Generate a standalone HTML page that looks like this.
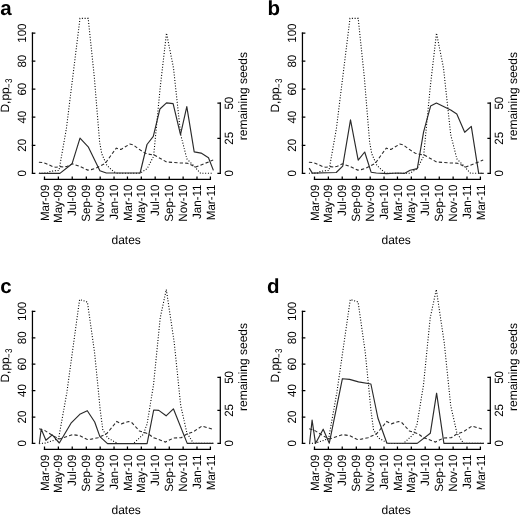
<!DOCTYPE html>
<html><head><meta charset="utf-8"><style>
html,body{margin:0;padding:0;background:#fff;width:520px;height:515px;overflow:hidden}
svg{display:block;filter:grayscale(1)}
text{font-family:"Liberation Sans", sans-serif;font-size:12px;fill:#000;text-rendering:geometricPrecision}
.tl{font-size:12px}
.ax{stroke:#000;stroke-width:1.25;fill:none;stroke-linecap:square}
.sol{stroke:#2a2a2a;stroke-width:1.15;fill:none;stroke-linejoin:round}
.dash{stroke:#2a2a2a;stroke-width:1.1;fill:none;stroke-dasharray:3.3 2.2}
.dot{stroke:#000;stroke-width:1.1;fill:none;stroke-dasharray:1 1.75}
</style></head><body>
<svg width="520" height="515" viewBox="0 0 520 515">
<g transform="translate(0,0)">
<text x="0.3" y="14.8" style="font-size:20.5px;font-weight:bold">a</text>
<path d="M32.45,33.1V173.3" class="ax"/>
<path d="M32.45,173.30h2.3M32.45,145.26h2.3M32.45,117.22h2.3M32.45,89.18h2.3M32.45,61.14h2.3M32.45,33.10h2.3" class="ax"/>
<text transform="translate(25.9,173.30) rotate(-90) scale(0.958,1)" text-anchor="middle" class="tl">0</text>
<text transform="translate(25.9,145.26) rotate(-90) scale(0.958,1)" text-anchor="middle" class="tl">20</text>
<text transform="translate(25.9,117.22) rotate(-90) scale(0.958,1)" text-anchor="middle" class="tl">40</text>
<text transform="translate(25.9,89.18) rotate(-90) scale(0.958,1)" text-anchor="middle" class="tl">60</text>
<text transform="translate(25.9,61.14) rotate(-90) scale(0.958,1)" text-anchor="middle" class="tl">80</text>
<text transform="translate(25.9,33.10) rotate(-90) scale(0.958,1)" text-anchor="middle" class="tl">100</text>
<text transform="translate(9.2,112.6) rotate(-90)">D,pp</text>
<path d="M8.9,87.60V83.90" style="stroke:#333;stroke-width:0.95;fill:none"/>
<text transform="translate(11.8,83.10) rotate(-90) scale(0.82,1)" style="font-size:9.7px">3</text>
<path d="M220.3,103.20V173.3" class="ax"/>
<path d="M220.3,173.30h-2.3M220.3,138.25h-2.3M220.3,103.20h-2.3" class="ax"/>
<text transform="translate(232.8,173.30) rotate(-90) scale(0.958,1)" text-anchor="middle" class="tl">0</text>
<text transform="translate(232.8,138.25) rotate(-90) scale(0.958,1)" text-anchor="middle" class="tl">25</text>
<text transform="translate(232.8,103.20) rotate(-90) scale(0.958,1)" text-anchor="middle" class="tl">50</text>
<text transform="translate(246.8,96.1) rotate(-90)" text-anchor="middle">remaining seeds</text>
<path d="M44.5,179.3H210.4" class="ax"/>
<path d="M44.50,179.3v-2.3M58.36,179.3v-2.3M72.23,179.3v-2.3M86.32,179.3v-2.3M100.18,179.3v-2.3M114.04,179.3v-2.3M127.45,179.3v-2.3M141.31,179.3v-2.3M155.18,179.3v-2.3M169.27,179.3v-2.3M183.13,179.3v-2.3M196.99,179.3v-2.3M210.40,179.3v-2.3" class="ax"/>
<text transform="translate(48.60,184.6) rotate(-90) scale(0.958,1)" text-anchor="end" class="tl">Mar-09</text>
<text transform="translate(62.46,184.6) rotate(-90) scale(0.958,1)" text-anchor="end" class="tl">May-09</text>
<text transform="translate(76.33,184.6) rotate(-90) scale(0.958,1)" text-anchor="end" class="tl">Jul-09</text>
<text transform="translate(90.42,184.6) rotate(-90) scale(0.958,1)" text-anchor="end" class="tl">Sep-09</text>
<text transform="translate(104.28,184.6) rotate(-90) scale(0.958,1)" text-anchor="end" class="tl">Nov-09</text>
<text transform="translate(118.14,184.6) rotate(-90) scale(0.958,1)" text-anchor="end" class="tl">Jan-10</text>
<text transform="translate(131.55,184.6) rotate(-90) scale(0.958,1)" text-anchor="end" class="tl">Mar-10</text>
<text transform="translate(145.41,184.6) rotate(-90) scale(0.958,1)" text-anchor="end" class="tl">May-10</text>
<text transform="translate(159.28,184.6) rotate(-90) scale(0.958,1)" text-anchor="end" class="tl">Jul-10</text>
<text transform="translate(173.37,184.6) rotate(-90) scale(0.958,1)" text-anchor="end" class="tl">Sep-10</text>
<text transform="translate(187.23,184.6) rotate(-90) scale(0.958,1)" text-anchor="end" class="tl">Nov-10</text>
<text transform="translate(201.09,184.6) rotate(-90) scale(0.958,1)" text-anchor="end" class="tl">Jan-11</text>
<text transform="translate(214.50,184.6) rotate(-90) scale(0.958,1)" text-anchor="end" class="tl">Mar-11</text>
<text x="126.2" y="244" text-anchor="middle">dates</text>
<polyline class="dot" points="38.9,173.3 47.5,173.1 49.8,171.6 53.7,170.8 59.0,170.4 66.4,128.5 80.0,18.4 88.2,18.4 94.3,77.0 99.6,142.0 101.8,153.9 106.9,165.5 114.2,172.1 117.5,173.2 140.1,173.2 147.2,168.5 153.6,156.3 160.2,87.5 166.5,33.1 173.5,68.0 180.7,134.6 186.9,159.0 194.5,166.5 200.5,173.3 213.2,173.3"/>
<polyline class="dash" points="38.9,162.3 42.7,162.5 45.8,163.4 52.7,166.6 55.8,167.2 60.4,166.6 63.5,167.1 67.3,166.2 72.4,163.8 80.3,166.6 87.8,170.1 91.2,169.6 96.0,168.2 105.1,163.6 112.1,153.8 116.3,148.1 118.9,149.3 121.0,149.4 130.0,144.0 133.1,144.8 138.9,149.1 145.3,153.2 148.0,154.0 154.3,155.1 166.6,162.0 180.5,163.0 187.5,163.2 195.5,167.1 213.2,160.1"/>
<polyline class="sol" points="38.9,173.4 59.9,173.4 72.1,163.7 80.0,138.1 88.2,146.8 99.9,170.7 106.3,173.0 140.1,173.0 147,144.5 153.3,136.3 159.9,109.0 166.5,102.9 173.1,103.6 180.5,134.6 186.8,106.6 194.2,151.9 201.1,153.1 208.5,157.7 213.4,170.4"/>
</g>
<g transform="translate(270,0)">
<text x="-2.4" y="14.8" style="font-size:20.5px;font-weight:bold">b</text>
<path d="M32.45,33.1V173.3" class="ax"/>
<path d="M32.45,173.30h2.3M32.45,145.26h2.3M32.45,117.22h2.3M32.45,89.18h2.3M32.45,61.14h2.3M32.45,33.10h2.3" class="ax"/>
<text transform="translate(25.9,173.30) rotate(-90) scale(0.958,1)" text-anchor="middle" class="tl">0</text>
<text transform="translate(25.9,145.26) rotate(-90) scale(0.958,1)" text-anchor="middle" class="tl">20</text>
<text transform="translate(25.9,117.22) rotate(-90) scale(0.958,1)" text-anchor="middle" class="tl">40</text>
<text transform="translate(25.9,89.18) rotate(-90) scale(0.958,1)" text-anchor="middle" class="tl">60</text>
<text transform="translate(25.9,61.14) rotate(-90) scale(0.958,1)" text-anchor="middle" class="tl">80</text>
<text transform="translate(25.9,33.10) rotate(-90) scale(0.958,1)" text-anchor="middle" class="tl">100</text>
<text transform="translate(9.2,112.6) rotate(-90)">D,pp</text>
<path d="M8.9,87.60V83.90" style="stroke:#333;stroke-width:0.95;fill:none"/>
<text transform="translate(11.8,83.10) rotate(-90) scale(0.82,1)" style="font-size:9.7px">3</text>
<path d="M220.3,103.20V173.3" class="ax"/>
<path d="M220.3,173.30h-2.3M220.3,138.25h-2.3M220.3,103.20h-2.3" class="ax"/>
<text transform="translate(232.8,173.30) rotate(-90) scale(0.958,1)" text-anchor="middle" class="tl">0</text>
<text transform="translate(232.8,138.25) rotate(-90) scale(0.958,1)" text-anchor="middle" class="tl">25</text>
<text transform="translate(232.8,103.20) rotate(-90) scale(0.958,1)" text-anchor="middle" class="tl">50</text>
<text transform="translate(246.8,96.1) rotate(-90)" text-anchor="middle">remaining seeds</text>
<path d="M44.5,179.3H210.4" class="ax"/>
<path d="M44.50,179.3v-2.3M58.36,179.3v-2.3M72.23,179.3v-2.3M86.32,179.3v-2.3M100.18,179.3v-2.3M114.04,179.3v-2.3M127.45,179.3v-2.3M141.31,179.3v-2.3M155.18,179.3v-2.3M169.27,179.3v-2.3M183.13,179.3v-2.3M196.99,179.3v-2.3M210.40,179.3v-2.3" class="ax"/>
<text transform="translate(48.60,184.6) rotate(-90) scale(0.958,1)" text-anchor="end" class="tl">Mar-09</text>
<text transform="translate(62.46,184.6) rotate(-90) scale(0.958,1)" text-anchor="end" class="tl">May-09</text>
<text transform="translate(76.33,184.6) rotate(-90) scale(0.958,1)" text-anchor="end" class="tl">Jul-09</text>
<text transform="translate(90.42,184.6) rotate(-90) scale(0.958,1)" text-anchor="end" class="tl">Sep-09</text>
<text transform="translate(104.28,184.6) rotate(-90) scale(0.958,1)" text-anchor="end" class="tl">Nov-09</text>
<text transform="translate(118.14,184.6) rotate(-90) scale(0.958,1)" text-anchor="end" class="tl">Jan-10</text>
<text transform="translate(131.55,184.6) rotate(-90) scale(0.958,1)" text-anchor="end" class="tl">Mar-10</text>
<text transform="translate(145.41,184.6) rotate(-90) scale(0.958,1)" text-anchor="end" class="tl">May-10</text>
<text transform="translate(159.28,184.6) rotate(-90) scale(0.958,1)" text-anchor="end" class="tl">Jul-10</text>
<text transform="translate(173.37,184.6) rotate(-90) scale(0.958,1)" text-anchor="end" class="tl">Sep-10</text>
<text transform="translate(187.23,184.6) rotate(-90) scale(0.958,1)" text-anchor="end" class="tl">Nov-10</text>
<text transform="translate(201.09,184.6) rotate(-90) scale(0.958,1)" text-anchor="end" class="tl">Jan-11</text>
<text transform="translate(214.50,184.6) rotate(-90) scale(0.958,1)" text-anchor="end" class="tl">Mar-11</text>
<text x="126.2" y="244" text-anchor="middle">dates</text>
<polyline class="dot" points="38.9,173.3 47.5,173.1 49.8,171.6 53.7,170.8 59.0,170.4 66.4,128.5 80.0,18.4 88.2,18.4 94.3,77.0 99.6,142.0 101.8,153.9 106.9,165.5 114.2,172.1 117.5,173.2 140.1,173.2 147.2,168.5 153.6,156.3 160.2,87.5 166.5,33.1 173.5,68.0 180.7,134.6 186.9,159.0 194.5,166.5 200.5,173.3 213.2,173.3"/>
<polyline class="dash" points="38.9,162.3 42.7,162.5 45.8,163.4 52.7,166.6 55.8,167.2 60.4,166.6 63.5,167.1 67.3,166.2 72.4,163.8 80.3,166.6 87.8,170.1 91.2,169.6 96.0,168.2 105.1,163.6 112.1,153.8 116.3,148.1 118.9,149.3 121.0,149.4 130.0,144.0 133.1,144.8 138.9,149.1 145.3,153.2 148.0,154.0 154.3,155.1 166.6,162.0 180.5,163.0 187.5,163.2 195.5,167.1 213.2,160.1"/>
<polyline class="sol" points="39.2,168.1 42.3,173.1 66.2,172.5 72.7,166.2 80.5,119.8 88.2,160.2 94.7,152.0 101.1,172.2 106.3,173.0 116.8,173.6 127.3,173.0 134.3,173.4 140.1,170.3 147.3,168.6 153.6,131.9 160.6,106.1 166.4,103.1 180.7,110.1 186.8,114.1 194.7,132.3 201.3,126.4 208.7,173.3 213.8,173.4"/>
</g>
<g transform="translate(0,270)">
<text x="0.3" y="22.7" style="font-size:20.5px;font-weight:bold">c</text>
<path d="M32.45,41.4V173.4" class="ax"/>
<path d="M32.45,173.40h2.3M32.45,147.00h2.3M32.45,120.60h2.3M32.45,94.20h2.3M32.45,67.80h2.3M32.45,41.40h2.3" class="ax"/>
<text transform="translate(25.9,173.40) rotate(-90) scale(0.958,1)" text-anchor="middle" class="tl">0</text>
<text transform="translate(25.9,147.00) rotate(-90) scale(0.958,1)" text-anchor="middle" class="tl">20</text>
<text transform="translate(25.9,120.60) rotate(-90) scale(0.958,1)" text-anchor="middle" class="tl">40</text>
<text transform="translate(25.9,94.20) rotate(-90) scale(0.958,1)" text-anchor="middle" class="tl">60</text>
<text transform="translate(25.9,67.80) rotate(-90) scale(0.958,1)" text-anchor="middle" class="tl">80</text>
<text transform="translate(25.9,41.40) rotate(-90) scale(0.958,1)" text-anchor="middle" class="tl">100</text>
<text transform="translate(9.2,112.6) rotate(-90)">D,pp</text>
<path d="M8.9,87.60V83.90" style="stroke:#333;stroke-width:0.95;fill:none"/>
<text transform="translate(11.8,83.10) rotate(-90) scale(0.82,1)" style="font-size:9.7px">3</text>
<path d="M220.3,107.40V173.4" class="ax"/>
<path d="M220.3,173.40h-2.3M220.3,140.40h-2.3M220.3,107.40h-2.3" class="ax"/>
<text transform="translate(232.8,173.40) rotate(-90) scale(0.958,1)" text-anchor="middle" class="tl">0</text>
<text transform="translate(232.8,140.40) rotate(-90) scale(0.958,1)" text-anchor="middle" class="tl">25</text>
<text transform="translate(232.8,107.40) rotate(-90) scale(0.958,1)" text-anchor="middle" class="tl">50</text>
<text transform="translate(246.8,97.0) rotate(-90)" text-anchor="middle">remaining seeds</text>
<path d="M44.5,179.3H210.4" class="ax"/>
<path d="M44.50,179.3v-2.3M58.36,179.3v-2.3M72.23,179.3v-2.3M86.32,179.3v-2.3M100.18,179.3v-2.3M114.04,179.3v-2.3M127.45,179.3v-2.3M141.31,179.3v-2.3M155.18,179.3v-2.3M169.27,179.3v-2.3M183.13,179.3v-2.3M196.99,179.3v-2.3M210.40,179.3v-2.3" class="ax"/>
<text transform="translate(48.60,184.6) rotate(-90) scale(0.958,1)" text-anchor="end" class="tl">Mar-09</text>
<text transform="translate(62.46,184.6) rotate(-90) scale(0.958,1)" text-anchor="end" class="tl">May-09</text>
<text transform="translate(76.33,184.6) rotate(-90) scale(0.958,1)" text-anchor="end" class="tl">Jul-09</text>
<text transform="translate(90.42,184.6) rotate(-90) scale(0.958,1)" text-anchor="end" class="tl">Sep-09</text>
<text transform="translate(104.28,184.6) rotate(-90) scale(0.958,1)" text-anchor="end" class="tl">Nov-09</text>
<text transform="translate(118.14,184.6) rotate(-90) scale(0.958,1)" text-anchor="end" class="tl">Jan-10</text>
<text transform="translate(131.55,184.6) rotate(-90) scale(0.958,1)" text-anchor="end" class="tl">Mar-10</text>
<text transform="translate(145.41,184.6) rotate(-90) scale(0.958,1)" text-anchor="end" class="tl">May-10</text>
<text transform="translate(159.28,184.6) rotate(-90) scale(0.958,1)" text-anchor="end" class="tl">Jul-10</text>
<text transform="translate(173.37,184.6) rotate(-90) scale(0.958,1)" text-anchor="end" class="tl">Sep-10</text>
<text transform="translate(187.23,184.6) rotate(-90) scale(0.958,1)" text-anchor="end" class="tl">Nov-10</text>
<text transform="translate(201.09,184.6) rotate(-90) scale(0.958,1)" text-anchor="end" class="tl">Jan-11</text>
<text transform="translate(214.50,184.6) rotate(-90) scale(0.958,1)" text-anchor="end" class="tl">Mar-11</text>
<text x="126.2" y="244" text-anchor="middle">dates</text>
<polyline class="dot" points="39.2,173.6 45.5,173.0 52.5,170.8 58.6,168.6 66.8,122.9 79.6,29.5 87.4,32.0 94.5,82.0 98.3,120.0 100.2,140.0 102.8,159.6 107.5,167.8 117.7,173.5 133.4,173.5 143.2,164.5 147.1,154.0 153.5,115.0 160.2,48.0 166.3,19.5 174.2,72.4 180.7,135.5 186.9,163.0 193.5,173.3 213.5,173.4"/>
<polyline class="dash" points="39.2,158.8 44.6,160.4 53.0,165.8 59.6,169.0 72.6,164.6 80.0,165.7 87.3,169.5 91.3,169.1 98.0,167.8 106.8,163.6 116.8,151.5 121.4,153.8 128.5,151.5 132.0,152.8 139.5,161.1 144.5,162.6 148.5,164.0 153.6,167.8 156.0,168.4 165.4,172.1 173.6,168.0 181.3,167.7 186.7,164.0 193.3,161.8 202.0,156.0 213.6,159.6"/>
<polyline class="sol" points="39.3,173.8 41.2,159.0 45.9,170.3 52.3,164.9 59.3,173.0 71.0,153.2 80.3,143.9 87.3,140.7 94.7,152.0 99.9,166.6 107.5,173.6 147.1,173.6 153.7,140.0 158.8,140.4 166.1,145.8 173.4,138.8 187.2,173.4 213.4,173.4"/>
</g>
<g transform="translate(270,270)">
<text x="-3.1" y="22.7" style="font-size:20.5px;font-weight:bold">d</text>
<path d="M32.45,41.4V173.4" class="ax"/>
<path d="M32.45,173.40h2.3M32.45,147.00h2.3M32.45,120.60h2.3M32.45,94.20h2.3M32.45,67.80h2.3M32.45,41.40h2.3" class="ax"/>
<text transform="translate(25.9,173.40) rotate(-90) scale(0.958,1)" text-anchor="middle" class="tl">0</text>
<text transform="translate(25.9,147.00) rotate(-90) scale(0.958,1)" text-anchor="middle" class="tl">20</text>
<text transform="translate(25.9,120.60) rotate(-90) scale(0.958,1)" text-anchor="middle" class="tl">40</text>
<text transform="translate(25.9,94.20) rotate(-90) scale(0.958,1)" text-anchor="middle" class="tl">60</text>
<text transform="translate(25.9,67.80) rotate(-90) scale(0.958,1)" text-anchor="middle" class="tl">80</text>
<text transform="translate(25.9,41.40) rotate(-90) scale(0.958,1)" text-anchor="middle" class="tl">100</text>
<text transform="translate(9.2,112.6) rotate(-90)">D,pp</text>
<path d="M8.9,87.60V83.90" style="stroke:#333;stroke-width:0.95;fill:none"/>
<text transform="translate(11.8,83.10) rotate(-90) scale(0.82,1)" style="font-size:9.7px">3</text>
<path d="M220.3,107.40V173.4" class="ax"/>
<path d="M220.3,173.40h-2.3M220.3,140.40h-2.3M220.3,107.40h-2.3" class="ax"/>
<text transform="translate(232.8,173.40) rotate(-90) scale(0.958,1)" text-anchor="middle" class="tl">0</text>
<text transform="translate(232.8,140.40) rotate(-90) scale(0.958,1)" text-anchor="middle" class="tl">25</text>
<text transform="translate(232.8,107.40) rotate(-90) scale(0.958,1)" text-anchor="middle" class="tl">50</text>
<text transform="translate(246.8,97.0) rotate(-90)" text-anchor="middle">remaining seeds</text>
<path d="M44.5,179.3H210.4" class="ax"/>
<path d="M44.50,179.3v-2.3M58.36,179.3v-2.3M72.23,179.3v-2.3M86.32,179.3v-2.3M100.18,179.3v-2.3M114.04,179.3v-2.3M127.45,179.3v-2.3M141.31,179.3v-2.3M155.18,179.3v-2.3M169.27,179.3v-2.3M183.13,179.3v-2.3M196.99,179.3v-2.3M210.40,179.3v-2.3" class="ax"/>
<text transform="translate(48.60,184.6) rotate(-90) scale(0.958,1)" text-anchor="end" class="tl">Mar-09</text>
<text transform="translate(62.46,184.6) rotate(-90) scale(0.958,1)" text-anchor="end" class="tl">May-09</text>
<text transform="translate(76.33,184.6) rotate(-90) scale(0.958,1)" text-anchor="end" class="tl">Jul-09</text>
<text transform="translate(90.42,184.6) rotate(-90) scale(0.958,1)" text-anchor="end" class="tl">Sep-09</text>
<text transform="translate(104.28,184.6) rotate(-90) scale(0.958,1)" text-anchor="end" class="tl">Nov-09</text>
<text transform="translate(118.14,184.6) rotate(-90) scale(0.958,1)" text-anchor="end" class="tl">Jan-10</text>
<text transform="translate(131.55,184.6) rotate(-90) scale(0.958,1)" text-anchor="end" class="tl">Mar-10</text>
<text transform="translate(145.41,184.6) rotate(-90) scale(0.958,1)" text-anchor="end" class="tl">May-10</text>
<text transform="translate(159.28,184.6) rotate(-90) scale(0.958,1)" text-anchor="end" class="tl">Jul-10</text>
<text transform="translate(173.37,184.6) rotate(-90) scale(0.958,1)" text-anchor="end" class="tl">Sep-10</text>
<text transform="translate(187.23,184.6) rotate(-90) scale(0.958,1)" text-anchor="end" class="tl">Nov-10</text>
<text transform="translate(201.09,184.6) rotate(-90) scale(0.958,1)" text-anchor="end" class="tl">Jan-11</text>
<text transform="translate(214.50,184.6) rotate(-90) scale(0.958,1)" text-anchor="end" class="tl">Mar-11</text>
<text x="126.2" y="244" text-anchor="middle">dates</text>
<polyline class="dot" points="39.2,173.6 45.5,173.0 52.5,170.8 58.6,168.6 66.8,122.9 80.3,29.5 88.10000000000001,32.0 95.2,82.0 99.0,120.0 100.9,140.0 103.5,159.6 108.2,167.8 118.4,173.5 133.4,173.5 143.2,164.5 147.1,154.0 153.5,115.0 160.2,48.0 166.3,19.5 174.2,72.4 180.7,135.5 186.9,163.0 193.5,173.3 213.5,173.4"/>
<polyline class="dash" points="39.2,158.8 44.6,160.4 53.0,165.8 59.6,169.0 72.6,164.6 80.0,165.7 87.3,169.5 91.3,169.1 98.0,167.8 106.8,163.6 116.8,151.5 121.4,153.8 128.5,151.5 132.0,152.8 139.5,161.1 144.5,162.6 148.5,164.0 153.6,167.8 156.0,168.4 165.4,172.1 173.6,168.0 181.3,167.7 186.7,164.0 193.3,161.8 202.0,156.0 213.6,159.6"/>
<polyline class="sol" points="39.6,173.2 42.1,150.1 45.5,173.4 53.2,159.2 59.3,173.2 72.4,108.7 79.6,109.4 88.5,111.9 100.9,114.0 107.9,148.0 116.9,173.2 147.2,173.4 160.3,163.3 166.6,123.2 173.9,173.4 213.9,173.4"/>
</g>
</svg>
</body></html>
